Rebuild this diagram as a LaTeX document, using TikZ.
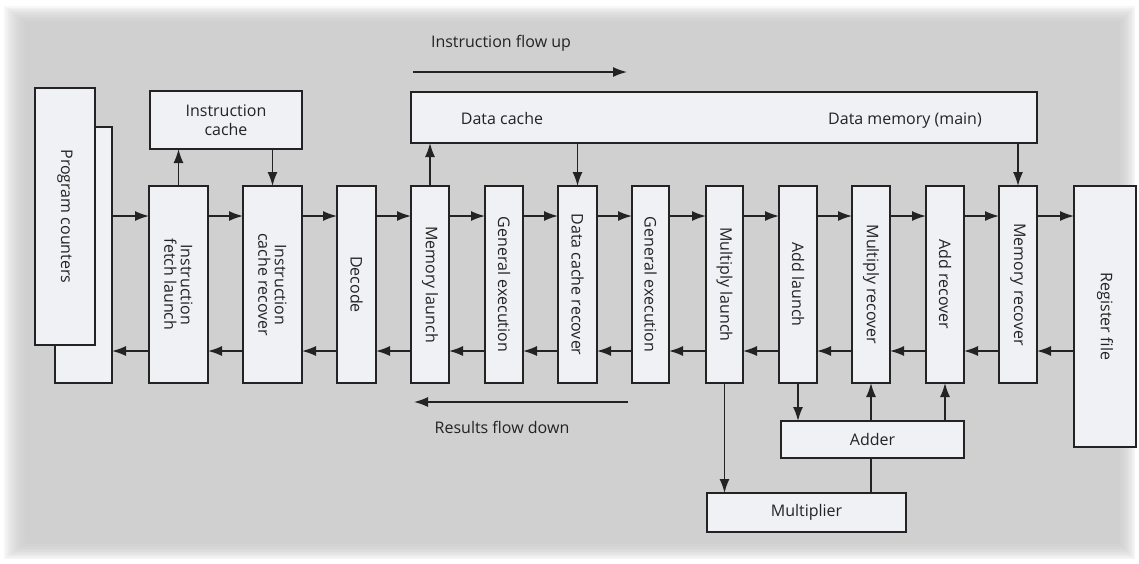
\documentclass[tikz,border=0pt]{standalone}
\usepackage{fontspec}
\setmainfont{Open Sans}
\usetikzlibrary{arrows.meta,calc}
\definecolor{bgray}{RGB}{203,203,203}
\definecolor{boxfill}{RGB}{240,241,244}
\definecolor{ink}{RGB}{35,35,35}
\tikzset{
  box/.style={draw=ink, fill=boxfill, line width=1.5pt, inner sep=0pt, outer sep=0pt, rectangle},
  stage/.style={box, minimum height=197pt},
  vlabel/.style={rotate=-90, align=center, font=\fontsize{16}{16.5}\selectfont, text=ink},
  hlabel/.style={align=center, font=\fontsize{16}{19}\selectfont, text=ink},
  arr/.style={draw=ink, line width=1.5pt, -{Latex[length=14pt,width=10pt]}},
  ln/.style={draw=ink, line width=1.5pt},
}
\begin{document}
\begin{tikzpicture}[x=1pt,y=-1pt]
\useasboundingbox (0,0) rectangle (1139,563);
% background
\fill[white] (0,0) rectangle (1139,563);
\foreach \i in {0,...,11}{
  \fill[bgray, opacity=0.14] (4+2*\i,6+1.5*\i) rectangle (1135-1.5*\i,559-1.5*\i);
}
% program counters
\node[box, minimum width=57pt, minimum height=256pt] (pcback) at (83.5,255) {};
\node[box, minimum width=60pt, minimum height=257pt] (pc) at (65,216.5) {};
\node[vlabel] at (pc) {Program counters};
% instruction cache
\node[box, minimum width=152pt, minimum height=58pt, hlabel] (icache) at (226,120) {Instruction\\cache};
% data cache / memory
\node[box, minimum width=626pt, minimum height=51pt] (dc) at (724,117.5) {};
\node[hlabel, anchor=base] (dctext) at (502,124) {Data cache};
\node[hlabel, anchor=base] (dmtext) at (905,124) {Data memory (main)};
% stages
\node[stage, minimum width=59pt] (ifl) at (178.5,284.5) {};
\node[vlabel] at (ifl) {Instruction\\fetch launch};
\node[stage, minimum width=59pt] (icr) at (272.5,284.5) {};
\node[vlabel] at (icr) {Instruction\\cache recover};
\node[stage, minimum width=39pt] (dec) at (356.5,284.5) {};
\node[vlabel] at (dec) {Decode};
\node[stage, minimum width=38pt] (ml) at (430,284.5) {};
\node[vlabel] at (ml) {Memory launch};
\node[stage, minimum width=38pt] (ge1) at (504,284.5) {};
\node[vlabel] at (ge1) {General execution};
\node[stage, minimum width=39pt] (dcr) at (577.5,284.5) {};
\node[vlabel] at (dcr) {Data cache recover};
\node[stage, minimum width=37pt] (ge2) at (650.5,284.5) {};
\node[vlabel] at (ge2) {General execution};
\node[stage, minimum width=37pt] (mul) at (724.5,284.5) {};
\node[vlabel] at (mul) {Multiply launch};
\node[stage, minimum width=38pt] (al) at (798,284.5) {};
\node[vlabel] at (al) {Add launch};
\node[stage, minimum width=38pt] (mr) at (871,284.5) {};
\node[vlabel] at (mr) {Multiply recover};
\node[stage, minimum width=38pt] (ar) at (945,284.5) {};
\node[vlabel] at (ar) {Add recover};
\node[stage, minimum width=38pt] (mer) at (1018,284.5) {};
\node[vlabel] at (mer) {Memory recover};
\node[box, minimum width=62pt, minimum height=261pt] (rf) at (1105,316.5) {};
\node[vlabel] at (rf) {Register file};
% adder / multiplier
\node[box, minimum width=183pt, minimum height=37pt, hlabel] (adder) at (872.5,439.5) {Adder};
\node[box, minimum width=199pt, minimum height=39pt, hlabel] (mult) at (806.5,512.5) {Multiplier};
% horizontal rows
\coordinate (top) at (0,216);
\coordinate (bot) at (0,351);
\foreach \a/\b in {pcback/ifl, ifl/icr, icr/dec, dec/ml, ml/ge1, ge1/dcr, dcr/ge2, ge2/mul, mul/al, al/mr, mr/ar, ar/mer, mer/rf}{
  \draw[arr] (\a.east |- top) -- (\b.west |- top);
  \draw[arr] (\b.west |- bot) -- (\a.east |- bot);
}
% vertical connections
\draw[arr] (ifl.north) -- (ifl.north |- icache.south);
\draw[arr] (icache.south -| icr.north) -- (icr.north);
\draw[arr] (ml.north) -- (ml.north |- dc.south);
\draw[arr] (dc.south -| dcr.north) -- (dcr.north);
\draw[arr] (dc.south -| mer.north) -- (mer.north);
\draw[arr] (mul.south) -- (mul.south |- mult.north);
\draw[arr] (al.south) -- (al.south |- adder.north);
\draw[arr] (adder.north -| mr.south) -- (mr.south);
\draw[arr] (adder.north -| ar.south) -- (ar.south);
\draw[ln] (mult.north -| mr.south) -- (adder.south -| mr.south);
% flow arrows
\coordinate (fu1) at (413,72);
\coordinate (fu2) at (627,72);
\draw[arr] (fu1) -- (fu2);
\node[hlabel] (fut) at (501,43) {Instruction flow up};
\coordinate (fd1) at (628,402);
\coordinate (fd2) at (414,402);
\draw[arr] (fd1) -- (fd2);
\node[hlabel] (fdt) at (502,427) {Results flow down};
\end{tikzpicture}
\end{document}
